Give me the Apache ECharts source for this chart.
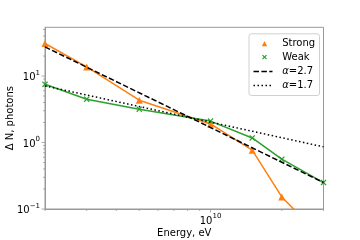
<!DOCTYPE html>
<html><head><meta charset="utf-8">
<script src="https://cdn.jsdelivr.net/npm/echarts@6/dist/echarts.min.js"></script>
<style>html,body{margin:0;padding:0;background:#fff}#c{width:360px;height:240px}</style>
</head><body><div id="c"></div>
<script>
// ---- data ----
var energy = [2e9, 3e9, 5e9, 1e10, 1.5e10, 2e10, 3e10];
var strong = [30.8, 13.7, 4.33, 1.9, 0.766, 0.152, 0.035];
var weak   = [7.5, 4.48, 3.17, 2.1, 1.17, 0.561, 0.25];
var alphaEnergy = [2e9, 3e10];
var alpha27 = [27.4, 0.25];
var alpha17 = [7.1, 0.86];
var xRange = [2e9, 3e10];
var yRange = [0.1, 54];
var xMajorTicks = [1e10];
var xMinorTicks = [2e9, 3e9, 4e9, 5e9, 6e9, 7e9, 8e9, 9e9, 2e10, 3e10];
var yMajorTicks = [0.1, 1, 10];
var yMinorTicks = [0.2, 0.3, 0.4, 0.5, 0.6, 0.7, 0.8, 0.9, 2, 3, 4, 5, 6, 7, 8, 9, 20, 30, 40, 50];
var labels = {strong: 'Strong', weak: 'Weak', a27: 'α=2.7', a17: 'α=1.7'};

var FONT = 'DejaVu Sans';
var SPINE = '#999';
function pairs(xs, ys) { return xs.map(function (x, i) { return [x, ys[i]]; }); }
function supLabel(v) {
  var e = Math.log10(v), r = Math.round(e);
  if (Math.abs(e - r) > 1e-6) return '';
  return '{b|10}{s|' + String(r).replace('-', '\u2212') + '}';
}
var rich = {
  b: {fontFamily: FONT, fontSize: 10, color: '#000', lineHeight: 13, verticalAlign: 'bottom'},
  s: {fontFamily: FONT, fontSize: 7, color: '#000', lineHeight: 7, verticalAlign: 'top'}
};
var xMark = 'path://M0,1.5 L1.5,0 L5,3.5 L8.5,0 L10,1.5 L6.5,5 L10,8.5 L8.5,10 L5,6.5 L1.5,10 L0,8.5 L3.5,5 Z';

var xTickData = xMajorTicks.map(function (v) { return [v, yRange[0], 1]; })
  .concat(xMinorTicks.map(function (v) { return [v, yRange[0], 0]; }));
var yTickData = yMajorTicks.map(function (v) { return [xRange[0], v, 1]; })
  .concat(yMinorTicks.map(function (v) { return [xRange[0], v, 0]; }));

function tickRenderer(dir) {
  return function (params, api) {
    var p = api.coord([api.value(0), api.value(1)]);
    var len = api.value(2) ? 3.5 : 2;
    var shape = dir === 'x' ? {x1: p[0], y1: p[1], x2: p[0], y2: p[1] + len}
                            : {x1: p[0] - len, y1: p[1], x2: p[0], y2: p[1]};
    return {type: 'line', shape: shape, style: {stroke: SPINE, lineWidth: 0.8}};
  };
}

var chart = echarts.init(document.getElementById('c'), null, {renderer: 'canvas'});
chart.setOption({
  animation: false,
  backgroundColor: '#fff',
  grid: {left: 45, right: 36.5, top: 27.3, bottom: 31, containLabel: false, outerBoundsMode: 'none',
         show: true, borderColor: SPINE, borderWidth: 1, backgroundColor: 'transparent'},
  xAxis: {
    type: 'log', logBase: 10, min: xRange[0], max: xRange[1],
    name: 'Energy, eV', nameLocation: 'middle', nameGap: 19, nameMoveOverlap: false,
    nameTextStyle: {fontFamily: FONT, fontSize: 10, color: '#000'},
    axisLine: {show: true, lineStyle: {color: SPINE, width: 1}},
    axisTick: {show: false}, splitLine: {show: false}, minorTick: {show: false},
    axisLabel: {formatter: supLabel, rich: rich, margin: 4, showMinLabel: true, showMaxLabel: true}
  },
  yAxis: {
    type: 'log', logBase: 10, min: yRange[0], max: yRange[1],
    name: 'Δ N, photons', nameLocation: 'middle', nameGap: 30, nameMoveOverlap: false,
    nameTextStyle: {fontFamily: FONT, fontSize: 10, color: '#000'},
    axisLine: {show: true, lineStyle: {color: SPINE, width: 1}},
    axisTick: {show: false}, splitLine: {show: false},
    axisLabel: {formatter: supLabel, rich: rich, margin: 5}
  },
  series: [
    {name: labels.strong, type: 'line', data: pairs(energy, strong), color: '#ff7f0e',
     lineStyle: {width: 1.5, color: '#ff7f0e'}, symbol: 'triangle', symbolSize: 7,
     itemStyle: {color: '#ff7f0e'}, showSymbol: true, clip: true, z: 2},
    {name: labels.weak, type: 'line', data: pairs(energy, weak), color: '#2ca02c',
     lineStyle: {width: 1.5, color: '#2ca02c'}, symbol: xMark, symbolSize: 6,
     itemStyle: {color: '#2ca02c'}, showSymbol: true, clip: true, z: 2},
    {name: labels.a27, type: 'line', data: pairs(alphaEnergy, alpha27), symbol: 'none',
     lineStyle: {width: 1.5, color: '#000', type: [5.5, 2.4]}, clip: true, z: 3},
    {name: labels.a17, type: 'line', data: pairs(alphaEnergy, alpha17), symbol: 'none',
     lineStyle: {width: 1.5, color: '#000', type: [1.5, 2.5]}, clip: true, z: 3},
    {type: 'custom', data: xTickData, renderItem: tickRenderer('x'), clip: false, silent: true, z: 5},
    {type: 'custom', data: yTickData, renderItem: tickRenderer('y'), clip: false, silent: true, z: 5}
  ],
  graphic: [
    {type: 'group', left: 248.5, top: 33.3, z: 100, children: [
      {type: 'rect', shape: {x: 0, y: 0, width: 70.5, height: 61.7, r: 2.5},
       style: {fill: 'rgba(255,255,255,0.85)', stroke: '#d0d0d0', lineWidth: 1}},
      {type: 'polygon', shape: {points: [[12.8, 12.4], [18.2, 12.4], [15.5, 7.2]]}, style: {fill: '#ff7f0e'}},
      {type: 'line', shape: {x1: 13.5, y1: 21.4, x2: 17.5, y2: 25.4}, style: {stroke: '#2ca02c', lineWidth: 1.2}},
      {type: 'line', shape: {x1: 17.5, y1: 21.4, x2: 13.5, y2: 25.4}, style: {stroke: '#2ca02c', lineWidth: 1.2}},
      {type: 'line', shape: {x1: 4.5, y1: 37.7, x2: 23.5, y2: 37.7}, style: {stroke: '#000', lineWidth: 1.5, lineDash: [5.5, 2.4]}},
      {type: 'line', shape: {x1: 4.5, y1: 51.7, x2: 23.5, y2: 51.7}, style: {stroke: '#000', lineWidth: 1.5, lineDash: [1.5, 2.5]}},
      {type: 'text', x: 33.2, y: 10, style: {text: labels.strong, fontFamily: FONT, fontSize: 10, fill: '#000', verticalAlign: 'middle'}},
      {type: 'text', x: 33.2, y: 23.4, style: {text: labels.weak, fontFamily: FONT, fontSize: 10, fill: '#000', verticalAlign: 'middle'}},
      {type: 'text', x: 33.2, y: 37.7, style: {text: '{i|α}=2.7', fontFamily: FONT, fontSize: 10, fill: '#000', verticalAlign: 'middle',
        rich: {i: {fontFamily: FONT, fontSize: 10, fontStyle: 'italic', fill: '#000'}}}},
      {type: 'text', x: 33.2, y: 51.7, style: {text: '{i|α}=1.7', fontFamily: FONT, fontSize: 10, fill: '#000', verticalAlign: 'middle',
        rich: {i: {fontFamily: FONT, fontSize: 10, fontStyle: 'italic', fill: '#000'}}}}
    ]}
  ]
});
</script></body></html>
